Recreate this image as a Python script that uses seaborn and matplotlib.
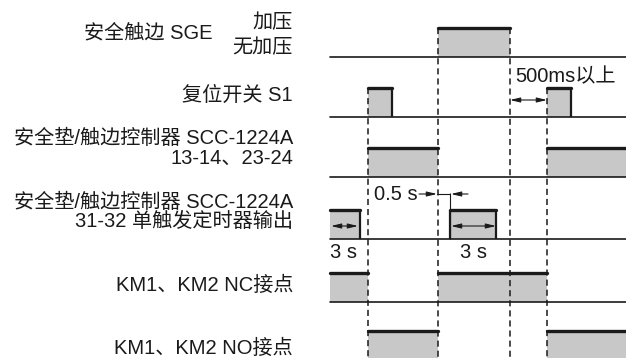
import pandas as pd
import seaborn as sns
import matplotlib.pyplot as plt

# --------------------------- chart data ----------------------------
signal_labels = ["安全触边 SGE", "复位开关 S1",
                 "安全垫/触边控制器 SCC-1224A\n13-14、23-24",
                 "安全垫/触边控制器 SCC-1224A\n31-32 单触发定时器输出",
                 "KM1、KM2 NC接点", "KM1、KM2 NO接点"]
label_x = [213, 293, 293, 293, 293, 293]
label_y = [33, 95, 148, 212, 285, 348]
base_y = [57, 117, 177, 239, 302, 360]
init_state = [0, 0, 0, 1, 1, 0]
switch_t = [[438, 510], [368, 392, 547, 571], [368, 438, 547],
            [360, 450, 496], [368, 438, 547], [368, 438, 547]]
t_start, t_end = 330, 626
pulse_h = 29

marker_t = [368, 438, 510, 547]
marker_top = [88, 28, 28, 88]

fill_col = "#c8c8c8"
ink = "#1a1a1a"

sns.set_theme(style="white")
plt.rcParams["font.family"] = ["Liberation Sans", "Noto Sans CJK SC", "DejaVu Sans"]
fs = 14.5

fig = plt.figure(figsize=(6.26, 3.58), dpi=100)
ax = fig.add_axes([0, 0, 1, 1])
ax.axis("off")

# build segments of the high level for every signal
top_rows = []
base_rows = []
seg_id = 0
for i, (sw, st) in enumerate(zip(switch_t, init_state)):
    edges = [t_start] + sw + [t_end]
    state = st
    base_rows += [(t_start, base_y[i], i), (t_end, base_y[i], i)]
    for a, b in zip(edges[:-1], edges[1:]):
        if state:
            top = base_y[i] - pulse_h
            ax.fill_between([a, b], base_y[i], top, color=fill_col, lw=0)
            top_rows += [(a, top, seg_id), (b, top, seg_id)]
            seg_id += 1
            for x in (a, b):
                if x not in marker_t and t_start < x < t_end:
                    ax.vlines(x, top, base_y[i], color=ink, lw=1.6)
        state = 1 - state

top_df = pd.DataFrame(top_rows, columns=["t", "y", "seg"])
base_df = pd.DataFrame(base_rows, columns=["t", "y", "seg"])
sns.lineplot(data=base_df, x="t", y="y", units="seg", estimator=None,
             color=ink, lw=1.2, ax=ax)
sns.lineplot(data=top_df, x="t", y="y", units="seg", estimator=None,
             color=ink, lw=2.4, ax=ax)
ax.set_xlim(0, 626)
ax.set_ylim(358, 0)

# dashed time markers
for x, y0 in zip(marker_t, marker_top):
    ax.vlines(x, y0, 360, color=ink, lw=1.1, linestyles=(0, (4, 2.6)))

# labels
for txt, x, y in zip(signal_labels, label_x, label_y):
    ax.text(x, y, txt, ha="right", va="center", fontsize=fs,
            linespacing=1.05, color=ink)
ax.text(293, 23, "加压", ha="right", va="center", fontsize=fs, color=ink)
ax.text(293, 48, "无加压", ha="right", va="center", fontsize=fs, color=ink)

arrow = dict(arrowstyle="<|-|>,head_length=0.5,head_width=0.12",
             lw=0.8, color=ink, shrinkA=0, shrinkB=0)
single = dict(arrowstyle="-|>,head_length=0.5,head_width=0.12",
              lw=0.8, color=ink, shrinkA=0, shrinkB=0)

# 500ms
ax.annotate("", xy=(547, 100), xytext=(510, 100), arrowprops=arrow)
ax.text(515, 77, "500ms以上", ha="left", va="center", fontsize=fs, color=ink)

# timer 3 s
ax.annotate("", xy=(358, 226), xytext=(331, 226), arrowprops=arrow)
ax.annotate("", xy=(496, 226), xytext=(451, 226), arrowprops=arrow)
ax.text(344, 253, "3 s", ha="center", va="center", fontsize=fs, color=ink)
ax.text(473, 253, "3 s", ha="center", va="center", fontsize=fs, color=ink)

# 0.5 s
ax.vlines(450, 193, 239, color=ink, lw=0.8)
ax.annotate("", xy=(437, 194), xytext=(419, 194), arrowprops=single)
ax.plot([437, 450], [194, 194], color=ink, lw=0.8)
ax.annotate("", xy=(451, 194), xytext=(468, 194), arrowprops=single)
ax.text(396, 194, "0.5 s", ha="center", va="center", fontsize=fs, color=ink)

fig.savefig("out.png", dpi=100)
